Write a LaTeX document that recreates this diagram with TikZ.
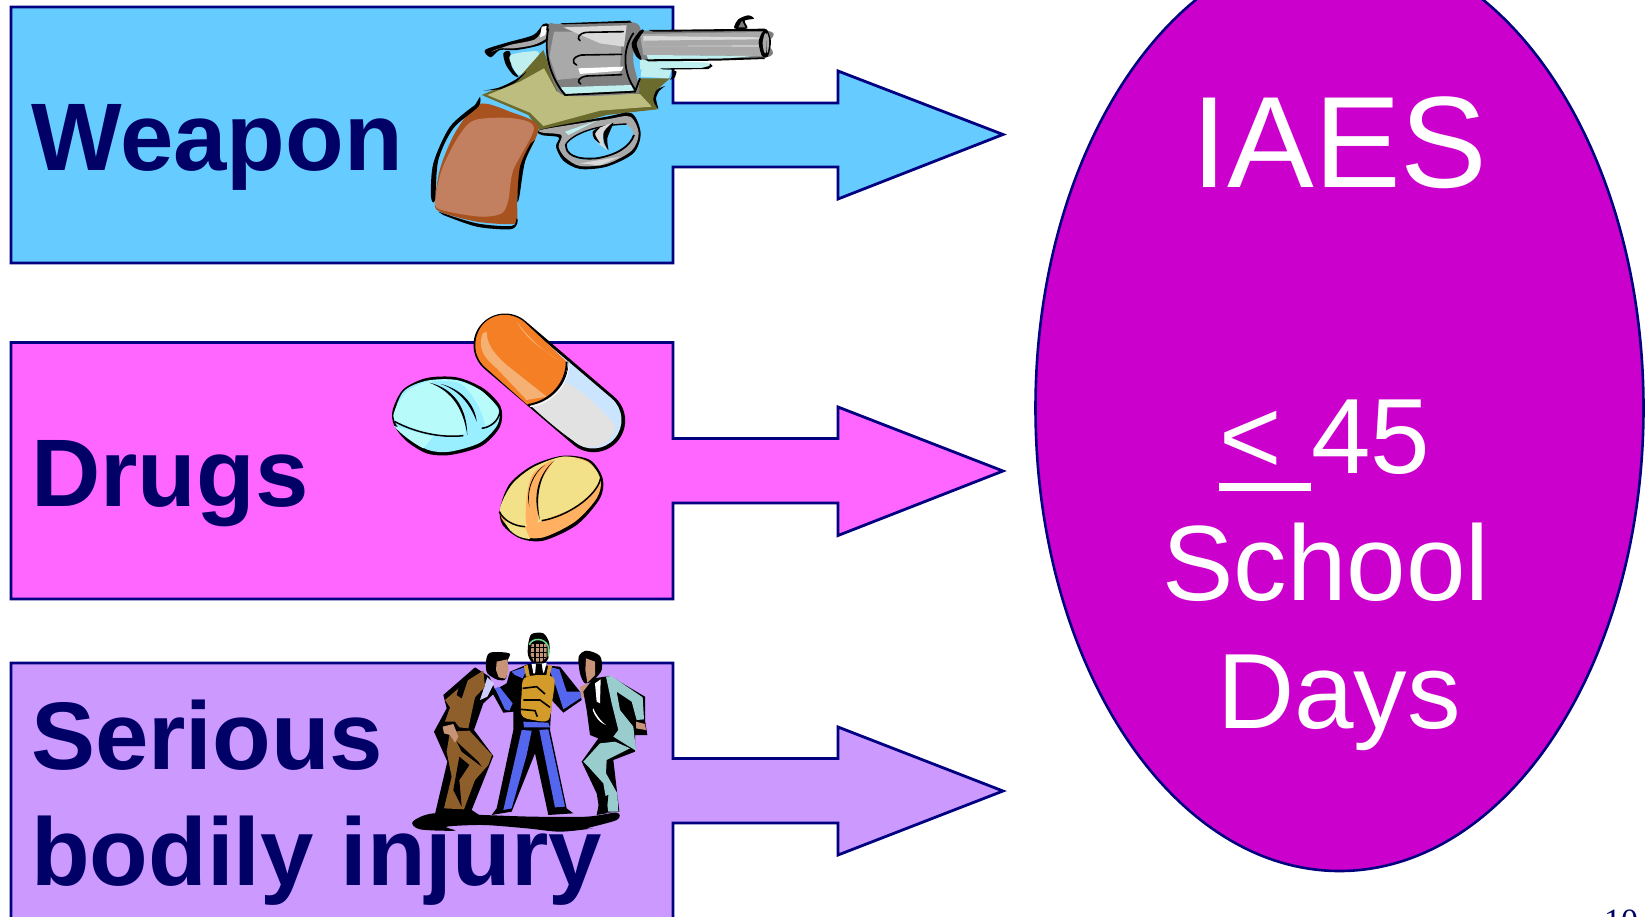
\documentclass[tikz,border=0pt]{standalone}
\usepackage{fontspec}
\usetikzlibrary{shapes.geometric}
\setmainfont{Liberation Sans}
\newfontfamily\serifnum{Liberation Serif}
\definecolor{navyline}{HTML}{000080}
\definecolor{navytext}{HTML}{000066}
\definecolor{boxblue}{HTML}{66CCFF}
\definecolor{boxpink}{HTML}{FF66FF}
\definecolor{boxpurple}{HTML}{CC99FF}
\definecolor{ovalmag}{HTML}{CC00CC}
\definecolor{gripdark}{HTML}{A8531F}
\definecolor{griplight}{HTML}{C28060}
\definecolor{olivelight}{HTML}{BDBD7F}
\definecolor{olivedark}{HTML}{6B6B2E}
\definecolor{gunmid}{HTML}{A9A9A9}
\definecolor{gundark}{HTML}{7F7F7F}
\definecolor{gunlight}{HTML}{D9D9D9}
\definecolor{gunglass}{HTML}{BFEFEF}
\definecolor{capsorange}{HTML}{F47F24}
\definecolor{capspale}{HTML}{F5B073}
\definecolor{capsgrey}{HTML}{E2E2E2}
\definecolor{capsblue}{HTML}{CCE5FF}
\definecolor{tabcyan}{HTML}{B8FBFB}
\definecolor{tabcyandark}{HTML}{99EEFF}
\definecolor{tabyellow}{HTML}{F3E18A}
\definecolor{taborange}{HTML}{FFB060}
\definecolor{manbrown}{HTML}{8F5F2B}
\definecolor{manskin}{HTML}{C89478}
\definecolor{manblue}{HTML}{5566EE}
\definecolor{manvest}{HTML}{D39B2A}
\definecolor{manteal}{HTML}{99CCCC}
\definecolor{manpale}{HTML}{CCCCFF}
\tikzset{
  blockshape/.style={draw=navyline,line width=2.8pt,line join=miter},
  labeltext/.style={anchor=base west,inner sep=0pt,text=navytext,font=\fontsize{96}{96}\selectfont\bfseries},
  ovaltext/.style={anchor=base west,inner sep=0pt,text=white,font=\fontsize{107}{107}\selectfont},
  art/.style={shift={#1},x=0.33333pt,y=-0.33333pt},
}
\begin{document}
\begin{tikzpicture}[x=1pt,y=-1pt]
\useasboundingbox (0,0) rectangle (1647,916);
\clip (0,0) rectangle (1647,916);
% blocks with arrows
\path[blockshape,fill=boxblue] (11,7) -- (673,7) -- (673,103) -- (838,103) -- (838,71) -- (1003,134.5) -- (838,199) -- (838,167) -- (673,167) -- (673,263) -- (11,263) -- cycle;
\path[blockshape,fill=boxpink] (11,342.5) -- (673,342.5) -- (673,438.5) -- (838,438.5) -- (838,407) -- (1003,471) -- (838,535.5) -- (838,503) -- (673,503) -- (673,599) -- (11,599) -- cycle;
\path[blockshape,fill=boxpurple] (11,663) -- (673,663) -- (673,758.5) -- (838,758.5) -- (838,727) -- (1003,791) -- (838,855) -- (838,823) -- (673,823) -- (673,930) -- (11,930) -- cycle;
% oval
\node[ellipse,draw=navyline,line width=2.6pt,fill=ovalmag,minimum width=608pt,minimum height=926pt,inner sep=0pt] (oval) at (1339.5,408) {};
% labels
\node[labeltext] (weapon) at (31,170) {Weapon};
\node[labeltext] (drugs) at (31,506) {Drugs};
\node[labeltext] (serious) at (31,769) {Serious};
\node[labeltext] (bodily) at (31,885) {bodily injury};
\node[anchor=base west,inner sep=0pt,text=white,font=\fontsize{130}{130}\selectfont] (iaes) at (1191,187) {IAES};
\node[ovaltext] (lt) at (1219,473) {<};
\node[ovaltext] (num) at (1311,473) {45};
\node[ovaltext] (school) at (1162,600) {School};
\node[ovaltext] (days) at (1217,728) {Days};
\fill[white] (1219,483) rectangle (1311,491);
\node[anchor=base west,inner sep=0pt,text=navytext,font=\fontsize{34}{34}\selectfont\serifnum] (pagenum) at (1604,932) {10};

% ---------- revolver ----------
\begin{scope}[art={(400,0)}]
% hammer
\fill[black] plot[smooth cycle] coordinates {(255,150)(320,128)(400,105)(430,72)(448,75)(452,110)(420,135)(350,150)(300,150)(272,172)};
\fill[gunmid] plot[smooth cycle] coordinates {(275,155)(330,135)(405,118)(430,85)(442,95)(440,115)(400,135)(340,145)(300,145)};
\fill[white] (425,80) -- (440,78) -- (436,105) -- (420,112) -- cycle;
\fill[black] plot[smooth cycle] coordinates {(310,160)(330,155)(335,200)(355,230)(340,225)(318,195)};
\fill[gunglass] plot[smooth cycle] coordinates {(332,165)(415,155)(395,200)(358,225)(338,200)};
% frame dark
\fill[olivedark] (430,150) -- (480,280) -- (715,270) -- (720,235) -- (810,235) -- (770,270) -- (762,300) -- (772,328) -- (620,345) -- (425,400) -- (385,345) -- (245,285) -- (350,240) -- cycle;
\fill[olivelight] (432,205) -- (470,275) -- (720,282) -- (755,320) -- (600,332) -- (430,378) -- (390,338) -- (262,285) -- (360,245) -- cycle;
\fill[black] plot[smooth] coordinates {(250,272)(300,262)(345,240)(380,215)(345,248)(300,268)} -- cycle;
\fill[black] plot[smooth] coordinates {(795,258)(770,270)(760,300)(775,328)(768,295)(778,272)} -- cycle;
% rod under barrel
\fill[gunglass] (720,178) -- (925,188) -- (932,198) -- (900,206) -- (720,208) -- cycle;
\fill[black] (780,205) -- (905,204) -- (928,198) -- (930,190) -- (938,198) -- (925,207) -- (790,209) -- cycle;
\fill[gunglass] (725,205) -- (815,210) -- (805,235) -- (722,230) -- cycle;
\fill[black] (815,208) -- (830,215) -- (825,232) -- (810,240) -- (820,222) -- cycle;
% barrel
\fill[gundark] plot[smooth cycle] coordinates {(700,135)(722,95)(760,92)(1098,92)(1105,130)(1098,172)(800,182)(735,180)(708,165)};
\fill[gunmid] (720,102) -- (1085,96) -- (1085,168) -- (730,165) -- cycle;
\fill[gunlight] (730,108) -- (1085,112) -- (1085,140) -- (730,138) -- cycle;
\fill[gunmid] (730,122) -- (1085,118) -- (1085,136) -- (730,138) -- cycle;
\fill[gunglass] (740,165) -- (1060,168) -- (950,178) -- (745,180) -- cycle;
\fill[black] (745,90) -- (1095,86) -- (1098,93) -- (760,95) -- cycle;
\fill[black] (735,178) -- (950,176) -- (1090,172) -- (1095,177) -- (950,182) -- (745,184) -- cycle;
\fill[black] plot[smooth cycle] coordinates {(1076,128)(1085,100)(1100,88)(1113,125)(1103,170)(1086,168)};
\fill[gunmid] plot[smooth cycle] coordinates {(1088,128)(1094,102)(1100,102)(1100,128)(1098,158)(1092,155)};
\fill[gunmid] plot[smooth cycle] coordinates {(1100,100)(1106,112)(1107,135)(1103,158)(1100,150)};
% front sight
\fill[black] plot[smooth cycle] coordinates {(1003,85)(1015,58)(1045,46)(1062,56)(1034,62)(1042,85)};
\fill[gundark] (1015,82) -- (1026,62) -- (1036,82) -- cycle;
% cylinder
\fill[gundark] plot[smooth cycle] coordinates {(447,75)(480,72)(690,66)(722,92)(705,130)(700,185)(718,270)(690,282)(500,287)(462,250)(440,170)};
\fill[gunmid] (462,95) -- (665,95) -- (660,220) -- (472,240) -- (448,170) -- cycle;
\fill[gunlight] (490,82) -- (680,76) -- (672,140) -- (600,130) -- cycle;
\fill[gunglass] (480,262) -- (695,255) -- (700,272) -- (500,282) -- cycle;
\fill[white] (535,205) -- (670,200) -- (665,212) -- (540,222) -- cycle;
\fill[gundark] (480,240) -- (690,222) -- (695,250) -- (480,260) -- cycle;
\draw[black,line width=1.8pt] (445,85) .. controls (430,160) and (450,230) .. (495,285) -- (705,275) -- (720,235);
\draw[black,line width=1.8pt,line cap=round] (700,100) .. controls (665,150) and (670,220) .. (705,268);
\draw[black,line width=1.6pt,line cap=round] (670,95) -- (560,97) .. controls (535,100) and (530,115) .. (540,122);
\draw[black,line width=1.6pt,line cap=round] (665,163) -- (545,165) .. controls (515,170) and (515,190) .. (530,195);
\draw[black,line width=1.6pt,line cap=round] (665,224) -- (560,228) .. controls (535,232) and (530,245) .. (542,252);
\fill[black] (480,70) -- (690,62) -- (695,68) -- (490,73) -- cycle;
\fill[black] plot[smooth cycle] coordinates {(695,130)(720,92)(732,92)(710,130)(725,178)(708,168)};
% trigger guard
\fill[black] plot[smooth cycle] coordinates {(468,440)(476,412)(425,405)(425,388)(620,350)(695,340)(722,400)(700,460)(620,500)(540,507)(490,482)};
\fill[gunmid] plot[smooth cycle] coordinates {(476,440)(484,405)(428,398)(430,388)(620,358)(690,350)(716,400)(695,452)(620,492)(540,498)(495,472)};
\fill[gunlight] (540,490) -- (600,496) -- (660,470) -- (600,480) -- cycle;
\fill[gunglass] (495,395) -- (590,362) -- (545,385) -- (505,405) -- cycle;
\fill[boxblue] plot[smooth cycle] coordinates {(498,432)(540,398)(620,378)(680,375)(700,405)(670,445)(610,470)(540,478)(505,458)};
\draw[black,line width=1.8pt] (498,432) .. controls (495,465) and (530,480) .. (590,475) .. controls (650,465) and (690,440) .. (702,405);
\draw[black,line width=1.4pt] (498,432) .. controls (520,400) and (590,375) .. (680,372);
% trigger
\fill[gunlight] plot[smooth cycle] coordinates {(578,395)(640,368)(612,395)(610,430)(622,450)(590,425)};
\fill[black] plot[smooth cycle] coordinates {(640,368)(612,395)(612,425)(625,450)(622,415)};
\fill[black] plot[smooth cycle] coordinates {(578,395)(600,382)(585,402)(600,430)(582,415)};
% grip
\fill[gripdark] plot[smooth cycle] coordinates {(238,312)(170,390)(122,500)(105,605)(120,635)(230,665)(340,672)(352,650)(352,590)(372,490)(415,380)(330,335)};
\fill[griplight] plot[smooth cycle] coordinates {(225,360)(175,410)(125,510)(105,605)(125,630)(240,650)(305,640)(325,600)(340,510)(402,385)(340,355)};
\fill[black] plot[smooth] coordinates {(240,290)(235,320)(160,385)(115,480)(105,600)(93,590)(100,490)(150,380)(225,315)} -- cycle;
\fill[black] plot[smooth] coordinates {(115,635)(230,670)(335,678)(350,655)(352,670)(330,688)(230,680)(130,645)} -- cycle;
\fill[black] plot[smooth] coordinates {(405,420)(375,485)(358,590)(352,600)(360,500)(392,430)} -- cycle;
\end{scope}

% ---------- pills ----------
\begin{scope}[art={(370,290)}]
\draw[black,line width=63pt,line cap=round] (405,165) -- (671,392);
\draw[capsblue,line width=57pt,line cap=round] (405,165) -- (669,390);
\fill[capsgrey] (480,345) .. controls (540,400) and (600,450) .. (640,470) .. controls (690,480) and (735,450) .. (735,405) .. controls (670,330) and (620,290) .. (570,270) -- cycle;
\fill[black] (595,215) .. controls (590,280) and (540,335) .. (475,345) .. controls (535,342) and (598,285) .. (595,215) -- cycle;
\fill[capsorange] (590,215) -- (465,98) .. controls (420,58) and (350,70) .. (325,125) .. controls (305,170) and (320,210) .. (347,233) -- (473,345) .. controls (535,335) and (590,280) .. (590,215) -- cycle;
\fill[capspale] (338,130) .. controls (320,180) and (350,210) .. (380,235) -- (470,330) -- (530,320) -- (410,225) .. controls (370,190) and (350,160) .. (350,125) -- cycle;
\fill[capspale] (440,95) .. controls (480,150) and (530,190) .. (565,210) .. controls (520,180) and (470,150) .. (440,95) -- cycle;
\draw[black,line width=1.8pt] (590,215) .. controls (590,280) and (540,335) .. (473,345);
\draw[white,line width=.8pt] (597,215) .. controls (597,285) and (545,342) .. (480,350);
\fill[black] plot[smooth cycle] coordinates {(68,360)(100,298)(170,264)(260,262)(340,295)(392,350)(390,410)(335,468)(240,495)(170,490)(108,452)(72,405)};
\fill[tabcyandark] plot[smooth cycle] coordinates {(72,385)(110,440)(175,480)(240,485)(330,458)(382,405)(385,355)(330,300)(260,270)(170,272)(100,305)};
\fill[tabcyan] (190,440) -- (160,475) .. controls (130,460) and (90,430) .. (72,408) -- cycle;
\fill[tabcyan] plot[smooth cycle] coordinates {(75,360)(110,305)(175,274)(250,270)(330,300)(375,345)(385,375)(345,410)(260,435)(170,428)(78,392)};
\fill[tabcyandark] plot[smooth cycle] coordinates {(185,275)(270,280)(320,340)(345,415)(290,435)(280,360)(240,310)};
\draw[black,line width=1.5pt] (75,395) .. controls (130,425) and (210,445) .. (280,437);
\draw[black,line width=1.5pt] (335,415) .. controls (360,412) and (385,395) .. (390,365);
\fill[black] (178,278) .. controls (250,295) and (290,350) .. (292,435) .. controls (280,360) and (250,305) .. (178,278) -- cycle;
\fill[black] (212,282) .. controls (270,295) and (315,340) .. (320,395) .. controls (300,340) and (265,300) .. (212,282) -- cycle;
\fill[black] plot[smooth cycle] coordinates {(390,655)(420,580)(490,525)(580,497)(660,510)(698,565)(690,625)(620,705)(520,752)(450,745)(398,705)};
\fill[taborange] plot[smooth cycle] coordinates {(392,665)(425,585)(490,532)(580,500)(655,515)(692,570)(680,625)(615,695)(520,742)(450,738)(405,700)};
\fill[tabyellow] (405,690) -- (465,712) -- (480,747) .. controls (440,745) and (410,720) .. (405,690) -- cycle;
\fill[tabyellow] plot[smooth cycle] coordinates {(390,655)(425,585)(490,532)(580,500)(655,518)(688,560)(672,600)(615,650)(540,683)(465,708)(410,690)};
\fill[taborange] plot[smooth cycle] coordinates {(550,512)(505,590)(505,690)(470,705)(470,620)(490,550)};
\draw[black,line width=1.5pt] (388,665) .. controls (400,690) and (430,708) .. (465,710);
\draw[black,line width=1.5pt] (515,692) .. controls (590,680) and (680,620) .. (692,565);
\fill[black] (553,512) .. controls (510,550) and (495,620) .. (510,690) .. controls (485,620) and (505,550) .. (553,512) -- cycle;
\fill[black] (525,525) .. controls (490,550) and (470,600) .. (478,650) .. controls (465,600) and (490,545) .. (525,525) -- cycle;
\end{scope}

% ---------- three men ----------
\begin{scope}[art={(400,620)}]
% shadow
\fill[black] plot[smooth cycle] coordinates {(38,605)(100,580)(250,585)(400,590)(560,590)(650,578)(650,600)(560,625)(580,625)(480,635)(380,625)(250,615)(140,620)(165,632)(60,628)};
% left man
\fill[black] (130,225) -- (225,142) -- (268,170) -- (288,215) -- (250,250) -- (222,330) -- (280,408) -- (215,570) -- (245,590) -- (105,582) -- (142,425) -- (102,335) -- (140,265) -- cycle;
\fill[black] plot[smooth cycle] coordinates {(258,125)(270,98)(328,100)(322,125)(318,175)(295,180)(262,160)};
\fill[manskin] (290,125) -- (322,118) -- (326,150) -- (316,176) -- (296,172) -- (288,150) -- cycle;
\fill[manpale] (262,172) -- (282,190) -- (262,230) -- (240,240) -- cycle;
\fill[manbrown] (135,240) -- (205,180) -- (250,152) -- (255,200) -- (225,232) -- (205,325) -- (178,322) -- (165,305) -- (135,305) -- (150,262) -- cycle;
\fill[black] (180,190) -- (205,175) -- (185,235) -- (170,225) -- cycle;
\fill[manbrown] (150,335) -- (208,332) -- (276,405) -- (265,435) -- (225,480) -- (192,568) -- (132,565) -- (155,470) -- (140,395) -- cycle;
\fill[black] (178,410) -- (208,435) -- (178,480) -- (185,560) -- (160,510) -- cycle;
\fill[black] (170,365) -- (235,425) -- (245,440) -- (185,395) -- cycle;
\fill[manskin] (128,320) -- (160,312) -- (175,350) -- (165,368) -- (150,345) -- (132,340) -- cycle;
% centre man
\fill[black] (330,155) -- (385,132) -- (480,140) -- (540,215) -- (545,240) -- (490,278) -- (455,240) -- (450,330) -- (500,565) -- (520,580) -- (445,585) -- (405,400) -- (335,575) -- (275,585) -- (290,565) -- (340,330) -- (340,275) -- (310,278) -- (275,215) -- (320,190) -- cycle;
\fill[manblue] (335,155) -- (385,138) -- (368,175) -- (345,165) -- cycle;
\fill[manblue] (445,140) -- (478,148) -- (500,215) -- (540,215) -- (545,232) -- (490,268) -- (468,200) -- cycle;
\fill[manblue] (285,205) -- (298,200) -- (338,250) -- (328,272) -- (315,268) -- cycle;
\fill[manblue] (370,305) -- (445,308) -- (450,322) -- (372,322) -- cycle;
\fill[manblue] (365,330) -- (395,332) -- (380,405) -- (335,565) -- (310,570) -- cycle;
\fill[manblue] (418,330) -- (445,328) -- (495,560) -- (465,562) -- cycle;
\fill[white] (395,132) -- (440,128) -- (432,158) -- (400,160) -- cycle;
\fill[black] (408,132) -- (425,132) -- (430,165) -- (405,165) -- cycle;
\fill[manvest] (372,138) -- (383,135) -- (390,170) -- (378,170) -- cycle;
\fill[manvest] (445,135) -- (456,138) -- (448,172) -- (438,170) -- cycle;
\fill[manvest] plot[smooth cycle] coordinates {(372,175)(420,165)(462,175)(458,235)(445,300)(400,300)(365,285)(365,220)};
\draw[black,line width=1.6pt] (368,205) -- (410,200) -- (435,222);
\draw[black,line width=1.6pt] (370,240) -- (420,240) -- (450,262);
\draw[black,line width=1.6pt] (362,268) -- (405,272) -- (412,290);
\fill[black] plot[smooth cycle] coordinates {(385,70)(395,42)(430,40)(448,70)(445,115)(430,130)(398,128)(384,105)};
\fill[manskin] (395,72) -- (440,72) -- (440,112) -- (425,125) -- (402,125) -- (392,105) -- cycle;
\draw[black,line width=1.5pt] (392,82) -- (442,82) (392,97) -- (442,97) (395,112) -- (438,112) (405,70) -- (405,125) (418,70) -- (418,125) (430,70) -- (430,125);
\draw[manteal!70!green,line width=1.5pt] (388,75) .. controls (395,52) and (435,52) .. (445,80) -- (445,110);
% right man
\fill[black] plot[smooth cycle] coordinates {(536,110)(560,92)(600,108)(605,150)(580,180)(555,190)(540,160)};
\fill[manskin] (558,115) -- (585,125) -- (585,165) -- (562,188) -- (556,150) -- cycle;
\fill[manskin] (540,200) -- (565,190) -- (572,215) -- (545,235) -- cycle;
\fill[black] (550,215) -- (580,175) -- (630,168) -- (735,230) -- (735,300) -- (742,345) -- (705,345) -- (705,395) -- (640,420) -- (658,575) -- (600,580) -- (590,520) -- (545,425) -- (595,355) -- (570,345) -- (560,270) -- cycle;
\fill[white] (585,190) -- (602,178) -- (600,250) -- (590,245) -- cycle;
\fill[white] (580,265) .. controls (590,290) and (610,310) .. (618,315) .. controls (600,310) and (585,290) .. (578,270) -- cycle;
\fill[manteal] (618,170) -- (634,168) -- (728,232) -- (732,298) -- (710,300) -- (695,245) -- (650,215) -- (660,270) -- (700,320) -- (708,392) -- (680,375) -- (640,350) -- (655,330) -- (635,250) -- cycle;
\fill[manteal] (550,425) -- (600,370) -- (645,365) -- (690,385) -- (620,420) -- (618,460) -- (652,520) -- (655,575) -- (625,575) -- (610,490) -- (565,440) -- cycle;
\fill[manskin] (708,305) -- (735,312) -- (738,330) -- (708,325) -- cycle;
\fill[black] (600,535) -- (625,525) -- (620,580) -- (590,585) -- cycle;
\end{scope}
\end{tikzpicture}
\end{document}
